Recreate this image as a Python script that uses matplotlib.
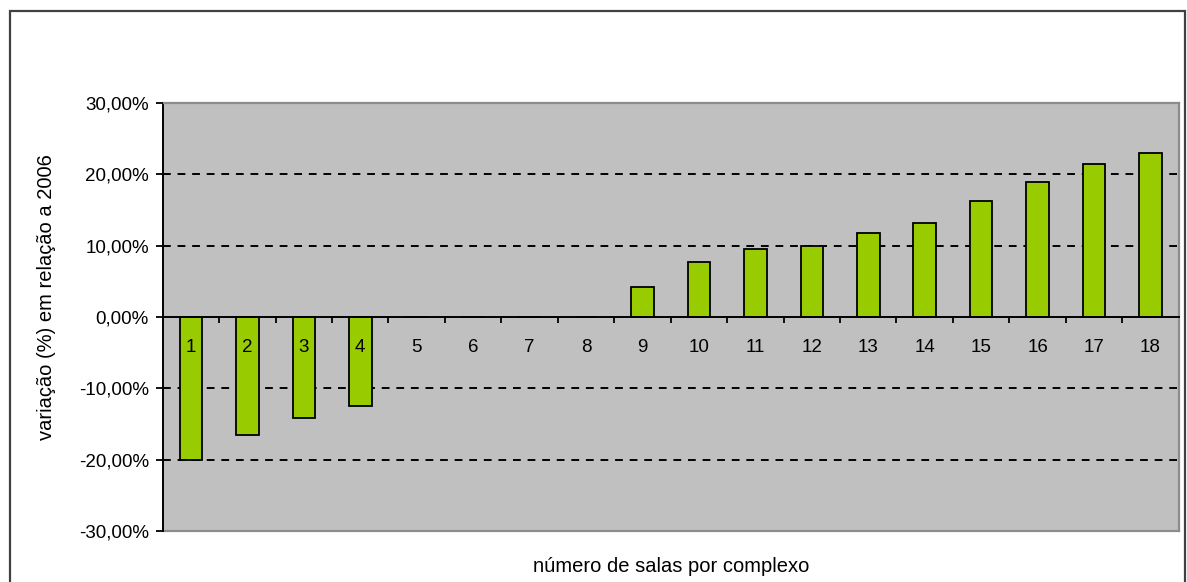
import matplotlib
matplotlib.use("Agg")
import matplotlib.pyplot as plt
from matplotlib.patches import Rectangle
from matplotlib.ticker import FixedLocator, FuncFormatter

plt.rcParams['font.family'] = ['Liberation Sans', 'DejaVu Sans']

categories = [str(i) for i in range(1, 19)]
values = [-20.0, -16.6, -14.1, -12.5, 0, 0, 0, 0, 4.2, 7.7, 9.6, 9.9,
          11.8, 13.2, 16.2, 18.9, 21.4, 23.0]
y_ticks = [-30, -20, -10, 0, 10, 20, 30]
x_label = "número de salas por complexo"
y_label = "variação (%) em relação a 2006"

W, H = 1187, 582
fig = plt.figure(figsize=(W / 100, H / 100), dpi=100)
fig.patch.set_facecolor('white')

# outer chart border
fig.patches.append(Rectangle((10 / W, -0.05), (1185 - 10) / W, 1.05 - 11 / H,
                             transform=fig.transFigure, fill=False,
                             edgecolor='#404040', linewidth=1.6))

left, right, top, bottom = 162.7, 1178.7, 103, 531
ax = fig.add_axes([left / W, 1 - bottom / H, (right - left) / W, (bottom - top) / H])
ax.set_facecolor('#C0C0C0')
ax.set_axisbelow(False)

n = len(categories)
xs = list(range(n))
ax.bar(xs, values, width=0.40, color='#99CC00', edgecolor='black', linewidth=1.3, zorder=2)

ax.set_xlim(-0.5, n - 0.5)
ax.set_ylim(-30, 30)

# gridlines
for yv in y_ticks:
    if yv not in (-30, 0, 30):
        ax.axhline(yv, color='black', linewidth=1.4, dashes=(4, 3.5), zorder=1)

# spines
for s in ['top', 'right']:
    ax.spines[s].set_color('#8C8C8C')
    ax.spines[s].set_linewidth(1.6)
ax.spines['left'].set_color('black')
ax.spines['left'].set_linewidth(1.4)
ax.spines['bottom'].set_position(('data', 0))
ax.spines['bottom'].set_color('black')
ax.spines['bottom'].set_linewidth(1.4)
ax.spines['bottom'].set_zorder(4)
ax.plot([0, 1], [0, 0], transform=ax.transAxes, color='#8C8C8C', linewidth=1.6, clip_on=False)

# y ticks
ax.yaxis.set_major_locator(FixedLocator(y_ticks))
ax.yaxis.set_major_formatter(FuncFormatter(lambda v, p: f"{v:.2f}%".replace('.', ',')))
ax.tick_params(axis='y', which='major', direction='out', length=5, width=1.3,
               labelsize=13.5, pad=5, colors='black')

# x ticks: marks between categories, labels at centers
ax.xaxis.set_major_locator(FixedLocator([i + 0.5 for i in range(n - 1)]))
ax.xaxis.set_major_formatter(FuncFormatter(lambda v, p: ""))
ax.xaxis.set_minor_locator(FixedLocator(xs))
ax.set_xticks(xs, categories, minor=True)
ax.tick_params(axis='x', which='major', direction='out', length=4.5, width=1.3)
ax.tick_params(axis='x', which='minor', length=0, labelsize=13.5, pad=16)

fig.text((left + right) / 2 / W, 1 - 567 / H, x_label, ha='center', va='center', fontsize=14.5)
fig.text(47 / W, 1 - 297 / H, y_label, ha='center', va='center', rotation=90, fontsize=14.5)

fig.savefig('out.png', dpi=100, facecolor='white')
